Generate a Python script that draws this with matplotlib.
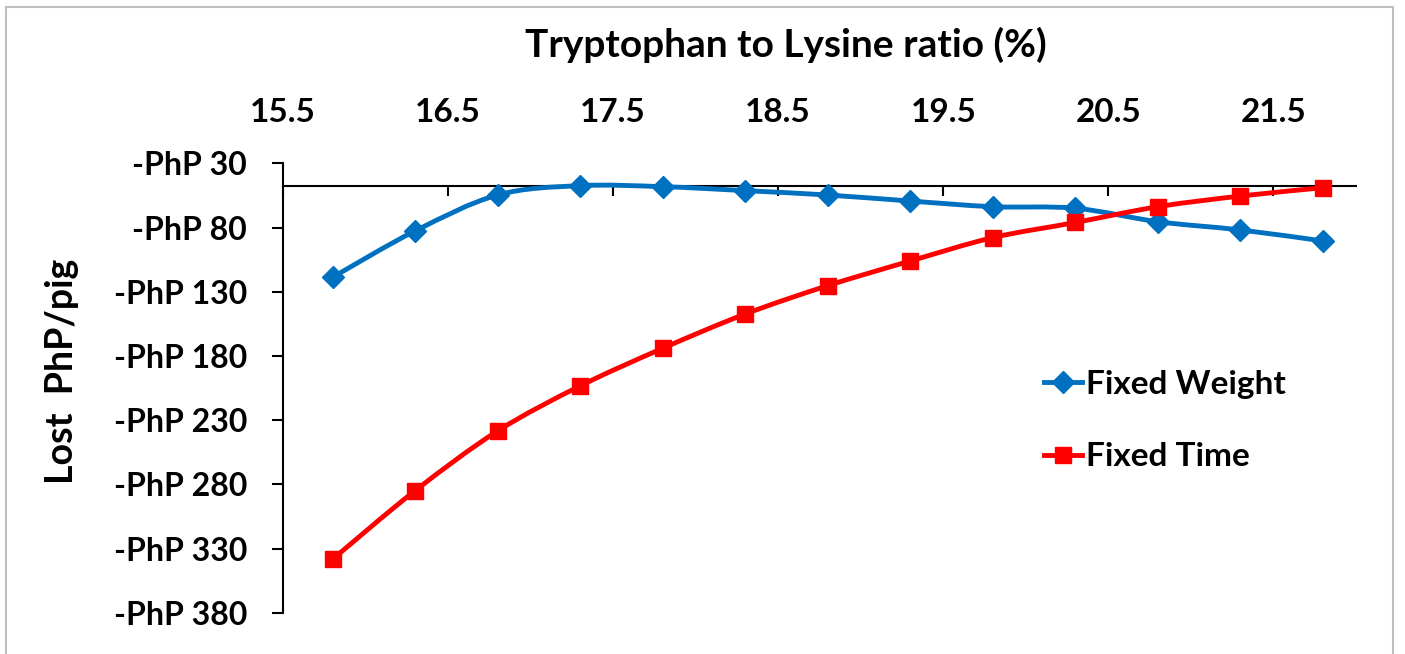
import matplotlib
matplotlib.use('Agg')
import matplotlib.pyplot as plt
from matplotlib.path import Path
from matplotlib.patches import PathPatch, Rectangle
from matplotlib.lines import Line2D
from matplotlib.ticker import FuncFormatter
import numpy as np

# Tryptophan to lysine ratio (%) and lost PhP per pig
ratio = [15.8, 16.3, 16.8, 17.3, 17.8, 18.3, 18.8, 19.3, 19.8, 20.3, 20.8, 21.3, 21.8]
fixed_weight = [-118.8, -82.7, -54.7, -47.4, -48.2, -51.3, -54.7, -59.4, -63.8, -65.0, -75.5, -81.9, -90.5]
fixed_time = [-338.4, -285.0, -238.5, -203.4, -174.1, -147.4, -125.3, -106.1, -87.9, -76.1, -63.8, -55.5, -49.0]

x_ticks = [15.5, 16.5, 17.5, 18.5, 19.5, 20.5, 21.5]
y_ticks = [-30, -80, -130, -180, -230, -280, -330, -380]
x_cross = -48

BLUE = '#0070C0'
RED = '#FF0000'
FONT = 'Lato'

plt.rcParams['font.family'] = [FONT, 'DejaVu Sans']
plt.rcParams['font.weight'] = 'bold'


def smooth_path(xs, ys):
    # excel style smoothed line (catmull-rom as bezier)
    pts = np.column_stack([xs, ys]).astype(float)
    n = len(pts)
    verts = [pts[0]]
    codes = [Path.MOVETO]
    for i in range(n - 1):
        p0 = pts[max(i - 1, 0)]
        p1 = pts[i]
        p2 = pts[i + 1]
        p3 = pts[min(i + 2, n - 1)]
        verts += [p1 + (p2 - p0) / 6, p2 - (p3 - p1) / 6, p2]
        codes += [Path.CURVE4] * 3
    return Path(verts, codes)


W, H = 1405, 654
fig = plt.figure(figsize=(W / 100, H / 100), dpi=100)
ax = fig.add_axes([283 / W, 1 - 612.7 / H, (1356 - 283) / W, 449.4 / H])

ax.set_xlim(15.5, 22.0)
ax.set_ylim(-380, -30)

# blue series
ax.add_patch(PathPatch(smooth_path(ratio, fixed_weight), fill=False,
                       edgecolor=BLUE, lw=3.5, zorder=3, capstyle='round'))
ax.plot(ratio, fixed_weight, ls='none', marker='D', ms=11, color=BLUE,
        mec=BLUE, zorder=4)
# red series
ax.add_patch(PathPatch(smooth_path(ratio, fixed_time), fill=False,
                       edgecolor=RED, lw=3.5, zorder=5, capstyle='round'))
ax.plot(ratio, fixed_time, ls='none', marker='s', ms=12, color=RED,
        mec=RED, zorder=6)

for s in ['top', 'right']:
    ax.spines[s].set_visible(False)
ax.spines['bottom'].set_position(('data', x_cross))
ax.spines['left'].set_linewidth(1.5)
ax.spines['bottom'].set_linewidth(1.5)

ax.set_xticks(x_ticks)
ax.set_yticks(y_ticks)
ax.xaxis.set_major_formatter(FuncFormatter(lambda v, p: f'{v:.1f}'))
ax.yaxis.set_major_formatter(FuncFormatter(lambda v, p: f'-PhP {abs(int(round(v)))}'))
ax.tick_params(axis='x', bottom=True, top=False, labelbottom=False, labeltop=True,
               direction='out', length=7, width=1.5, pad=19, labelsize=24)
ax.tick_params(axis='y', direction='out', length=8, width=1.5, pad=18, labelsize=23)
for lab in ax.get_xticklabels() + ax.get_yticklabels():
    lab.set_fontweight('bold')

fig.text(786 / W, 1 - 45 / H, 'Tryptophan to Lysine ratio (%)', ha='center',
         va='center', fontsize=28, fontweight='bold')
fig.text(62 / W, 1 - 371 / H, 'Lost  PhP/pig', ha='center', va='center',
         rotation=90, fontsize=27, fontweight='bold')

handles = [
    Line2D([], [], color=BLUE, lw=3.5, marker='D', ms=11),
    Line2D([], [], color=RED, lw=3.5, marker='s', ms=12),
]
ax.legend(handles, ['Fixed Weight', 'Fixed Time'], loc='upper left',
          bbox_to_anchor=(1044 / W, 1 - 370 / H), bbox_transform=fig.transFigure,
          frameon=False, fontsize=24, handlelength=1.15, handletextpad=0.1,
          labelspacing=1.3, numpoints=1, borderpad=0, borderaxespad=0)

# chart area border
fig.patches.append(Rectangle((6 / W, -0.05), (1393 - 6) / W, 1.05 - 7 / H,
                             transform=fig.transFigure, fill=False,
                             edgecolor='#BFBFBF', lw=1.5))

fig.savefig('out.png', dpi=100)
